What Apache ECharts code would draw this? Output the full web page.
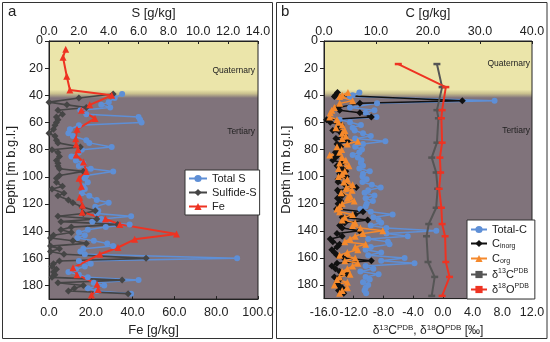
<!DOCTYPE html>
<html><head><meta charset="utf-8">
<script src="https://cdn.jsdelivr.net/npm/echarts@6/dist/echarts.min.js"></script>
<style>html,body{margin:0;padding:0;background:#fff}#c{width:550px;height:342px}</style>
</head><body><div id="c"></div>
<script>
// ---- Panel a: sulfur & iron ----
const depthS = [39,42,45,47,49,51,54,56,58,60,62,65,68,70,73,75,78,80,82,85,88,90,92,94,96,99,101,104,107,109,112,114,117,119,122,125,127,129,131,133,135,137,139,141,143,145,147,149,151,153,155,157,160,162,164,166,168,170,172,174,176,178,180,182,184,186];
const totalS = [4.9,4.4,4.0,3.5,4.1,2.1,2.5,6.0,6.1,6.2,2.0,1.4,1.3,1.6,2.5,2.7,4.2,2.2,2.0,1.5,1.8,2.3,2.0,2.8,4.3,2.5,2.4,2.6,2.3,2.4,2.2,2.7,3.2,4.0,3.1,3.3,3.2,5.5,3.5,2.9,5.4,3.8,2.6,2.0,2.4,1.9,3.0,3.9,4.3,2.3,2.1,2.4,12.6,2.0,2.8,2.4,1.8,1.3,2.0,2.6,6.0,3.0,3.7,2.6,3.2,5.5];
const sulfideS = [4.3,2.0,0.0,1.2,2.5,0.6,0.9,0.5,0.6,0.5,0.4,0.3,0.0,0.4,0.5,0.6,2.1,0.2,0.6,0.7,0.5,0.6,0.6,0.7,2.3,0.7,0.5,0.5,0.9,0.2,1.0,0.6,1.3,1.6,2.2,3.1,2.3,0.6,3.2,0.8,4.6,1.5,0.8,1.5,0.3,0.1,1.6,2.5,0.1,0.7,0.1,1.0,6.5,0.7,0.3,0.2,0.5,0.3,0.4,0.2,4.9,0.6,2.3,1.7,1.3,5.3];
const depthFe = [6,12,26,36,40,47,51,57,65,72,76,80,84,89,96,101,107,115,121,126,131,135,142,146,152,157,167,172,179,183,187];
const fe = [8,6.7,8.5,10,30,19.5,15.5,22,13.4,12.8,13,13.9,13,16.5,17.8,14.4,15.5,14.7,16,15.9,27,33.9,61,41,33,24.3,11.5,13.4,23,23.5,20.3];

// ---- Panel b: carbon & isotopes ----
const depthC = [38,40,41,44,46,49,51,53,56,58,60,62,64,66,68,70,72,74,76,78,80,82,84,86,88,90,92,94,96,98,100,102,104,106,108,110,112,114,116,118,120,122,124,126,128,130,132,134,136,138,140,142,144,146,148,150,152,154,156,158,160,162,164,166,168,170,172,174,176,178,180,182,184,186];
const totalC = [6.8,5.5,5.0,32.8,10.2,5.0,9.7,8.0,10.1,3.0,5.0,7.1,5.5,5.9,7.5,9.0,6.0,11.8,7.5,6.0,7.3,6.8,5.5,6.5,7.2,7.1,7.5,6.8,8.8,7.5,7.4,8.2,7.4,9.2,10.9,8.5,7.8,9.7,8.0,9.4,8.2,8.0,7.0,9.0,13.2,9.5,10.5,11.0,9.0,12.0,21.6,12.0,16.1,8.5,12.3,12.6,9.0,8.0,11.0,8.5,15.5,11.0,17.4,8.0,9.5,7.0,10.5,8.0,8.8,7.5,8.5,8.0,7.8,8.1];
const cInorg = [2.6,2.2,2.0,26.6,6.9,2.7,3.0,6.9,9.1,0.5,1.2,3.3,2.8,1.7,3.3,4.0,2.3,4.5,2.5,3.2,3.0,2.2,2.7,2.2,1.7,3.5,2.5,3.5,4.2,3.0,4.3,2.7,2.7,4.0,6.2,2.6,3.0,3.5,2.6,3.2,2.7,3.1,2.4,7.5,6.0,3.5,8.4,4.0,3.0,3.5,6.8,2.5,3.5,1.2,1.7,3.0,2.5,1.5,2.0,2.5,3.8,9.1,2.5,1.5,2.2,3.0,4.5,2.0,3.0,2.5,2.8,3.5,2.8,3.8];
const cOrg = [4.6,3.5,3.0,5.5,3.0,2.0,1.5,1.2,1.1,2.5,2.8,3.5,2.3,4.0,3.5,4.2,3.5,6.5,4.5,2.5,3.4,3.0,1.1,3.5,4.2,3.0,4.8,2.8,4.0,3.5,2.8,4.5,3.8,5.5,4.3,5.4,3.3,5.0,4.5,5.8,3.5,3.0,2.5,3.0,5.5,4.0,3.5,6.0,5.5,7.0,11.3,7.5,6.0,5.0,4.0,8.0,6.0,6.5,4.5,3.0,6.0,4.0,6.5,5.5,4.5,3.5,5.0,3.0,2.5,4.5,2.0,4.5,3.5,3.0];
const depthIso = [17,34,51,57,75,86,97,109,123,135,144,163,174,188];
const d13C = [-0.8,-0.1,-0.8,-0.6,-0.8,-1.5,-0.9,-0.7,-0.9,-1.9,-2.2,-2.0,-1.1,-1.5];
const d18O = [-6.0,0.4,-0.1,-0.2,-0.1,-0.4,-0.3,-0.5,-0.2,-0.1,0.3,0.4,0.9,-0.1];

const depthTicks = {min:0, max:190, interval:20};

const FONT = 'Liberation Sans, Arial, sans-serif';
const YEL = '#ebe5aa', GRY = '#80737b';
const zip = (xs, ys) => xs.map((x, i) => [x, ys[i]]);

const chart = echarts.init(document.getElementById('c'), null, {renderer:'canvas'});
const mkBg = () => new echarts.graphic.LinearGradient(0,0,0,1,[
  {offset:0,color:YEL},{offset:0.19,color:YEL},{offset:0.205,color:'#c9c08e'},{offset:0.222,color:GRY},{offset:1,color:GRY}]);

const axisCommon = {
  axisLine:{show:true,onZero:false,lineStyle:{color:'#222',width:1}},
  splitLine:{show:false},
  axisLabel:{color:'#222',fontSize:12.5,fontFamily:FONT},
  nameTextStyle:{color:'#222',fontSize:13,fontFamily:FONT}
};
const fmt1 = v => v.toFixed(1);
function xTop(grid, min, max, interval, name){
  return Object.assign({}, axisCommon, {type:'value', gridIndex:grid, position:'top', min, max, interval,
    name, nameLocation:'middle', nameGap:18,
    axisTick:{inside:true,length:3,lineStyle:{color:'#222'}},
    axisLabel:Object.assign({}, axisCommon.axisLabel, {margin:3, formatter:fmt1})});
}
function xBottom(grid, min, max, interval, name, rich){
  return Object.assign({}, axisCommon, {type:'value', gridIndex:grid, position:'bottom', min, max, interval,
    name, nameLocation:'middle', nameGap:21,
    nameTextStyle:Object.assign({}, axisCommon.nameTextStyle, rich ? {rich} : {}),
    axisTick:{inside:true,length:3,lineStyle:{color:'#222'}},
    axisLabel:Object.assign({}, axisCommon.axisLabel, {margin:7, formatter:fmt1})});
}
function yAx(grid){
  return Object.assign({}, axisCommon, {type:'value', gridIndex:grid, inverse:true,
    min:depthTicks.min, max:depthTicks.max, interval:depthTicks.interval,
    name:'Depth [m b.g.l.]', nameLocation:'middle', nameGap:27,
    axisTick:{inside:false,length:4,lineStyle:{color:'#222'}},
    axisLabel:Object.assign({}, axisCommon.axisLabel, {margin:6, showMaxLabel:false})});
}

const richSup = {
  b:{fontSize:12,fontFamily:FONT,color:'#222',lineHeight:15},
  sup:{fontSize:8,fontFamily:FONT,color:'#222',verticalAlign:'top',lineHeight:8},
  sub:{fontSize:8,fontFamily:FONT,color:'#222',verticalAlign:'bottom',lineHeight:8}
};
const richLeg = {
  b:{fontSize:11,fontFamily:FONT,color:'#222',lineHeight:13},
  sup:{fontSize:7,fontFamily:FONT,color:'#222',verticalAlign:'top',lineHeight:7},
  sub:{fontSize:7,fontFamily:FONT,color:'#222',verticalAlign:'bottom',lineHeight:7}
};
const legNames = {
  'Total-C':'{b|Total-C}',
  'Cinorg':'{b|C}{sub|inorg}',
  'Corg':'{b|C}{sub|org}',
  'd13C':'{b|δ}{sup|13}{b|C}{sup|PDB}',
  'd18O':'{b|δ}{sup|18}{b|O}{sup|PDB}'
};

const BLUE = '#5e8fd6', DGRAY = '#454545', RED = '#ee3322', BLACK = '#111', ORANGE = '#f5892c';
function line(name, xi, yi, data, color, symbol, size, width){
  return {type:'line', name, xAxisIndex:xi, yAxisIndex:yi, data, symbol, symbolSize:size,
    showSymbol:true, animation:false, itemStyle:{color}, lineStyle:{color,width}, emphasis:{disabled:true}};
}

const option = {
  animation:false,
  textStyle:{fontFamily:FONT},
  grid:[
    {left:49,top:41,width:209,height:259,show:true,backgroundColor:mkBg(),borderColor:'#222',borderWidth:1},
    {left:324,top:41,width:208,height:259,show:true,backgroundColor:mkBg(),borderColor:'#222',borderWidth:1}
  ],
  xAxis:[
    xTop(0,0,14,2,'S [g/kg]'),
    xBottom(0,0,100,20,'Fe [g/kg]'),
    xTop(1,0,40,10,'C [g/kg]'),
    xBottom(1,-16,12,4,'{b|δ}{sup|13}{b|C}{sup|PDB}{b|, δ}{sup|18}{b|O}{sup|PDB}{b| [‰]}', richSup)
  ],
  yAxis:[yAx(0), yAx(1)],
  legend:[
    {data:['Total S','Sulfide-S','Fe'], orient:'vertical', left:185, top:170,
     backgroundColor:'#fff', borderColor:'#333', borderWidth:1, borderRadius:0,
     padding:[3,3,3,3], itemGap:3, itemWidth:18, itemHeight:9,
     textStyle:{fontSize:11,fontFamily:FONT,color:'#222'}},
    {data:['Total-C','Cinorg','Corg','d13C','d18O'], orient:'vertical', left:467, top:220,
     backgroundColor:'#fff', borderColor:'#333', borderWidth:1, borderRadius:0,
     padding:[4,6,4,3], itemGap:3, itemWidth:16, itemHeight:9,
     formatter:n => legNames[n],
     textStyle:{fontSize:11,fontFamily:FONT,color:'#222',rich:richLeg}}
  ],
  series:[
    line('Total S',0,0,zip(totalS,depthS),BLUE,'circle',6,1.5),
    line('Sulfide-S',0,0,zip(sulfideS,depthS),DGRAY,'diamond',7,1.6),
    line('Fe',1,0,zip(fe,depthFe),RED,'triangle',7,2),
    line('Total-C',2,1,zip(totalC,depthC),BLUE,'circle',6,1.5),
    line('Cinorg',2,1,zip(cInorg,depthC),BLACK,'diamond',7,1.5),
    line('Corg',2,1,zip(cOrg,depthC),ORANGE,'triangle',7,1.5),
    line('d13C',3,1,zip(d13C,depthIso),'#555','rect',[7,2.5],2),
    line('d18O',3,1,zip(d18O,depthIso),RED,'rect',[7,2.5],2)
  ],
  graphic:[
    {type:'rect',shape:{x:2.5,y:2.5,width:270,height:336},style:{fill:'none',stroke:'#333',lineWidth:1},silent:true,z:-1},
    {type:'rect',shape:{x:276.5,y:2.5,width:270.5,height:336},style:{fill:'none',stroke:'#333',lineWidth:1},silent:true,z:-1},
    {type:'text',left:8,top:4,style:{text:'a',fontSize:15,fontFamily:FONT,fill:'#222'}},
    {type:'text',left:281,top:4,style:{text:'b',fontSize:15,fontFamily:FONT,fill:'#222'}},
    {type:'text',x:255,y:71,style:{text:'Quaternary',fontSize:8.5,fontFamily:FONT,fill:'#222',align:'right',verticalAlign:'middle'},z:10},
    {type:'text',x:255,y:132,style:{text:'Tertiary',fontSize:8.5,fontFamily:FONT,fill:'#222',align:'right',verticalAlign:'middle'},z:10},
    {type:'text',x:530,y:64,style:{text:'Quaternary',fontSize:8.5,fontFamily:FONT,fill:'#222',align:'right',verticalAlign:'middle'},z:10},
    {type:'text',x:530,y:131,style:{text:'Tertiary',fontSize:8.5,fontFamily:FONT,fill:'#222',align:'right',verticalAlign:'middle'},z:10}
  ]
};
chart.setOption(option);
</script></body></html>
